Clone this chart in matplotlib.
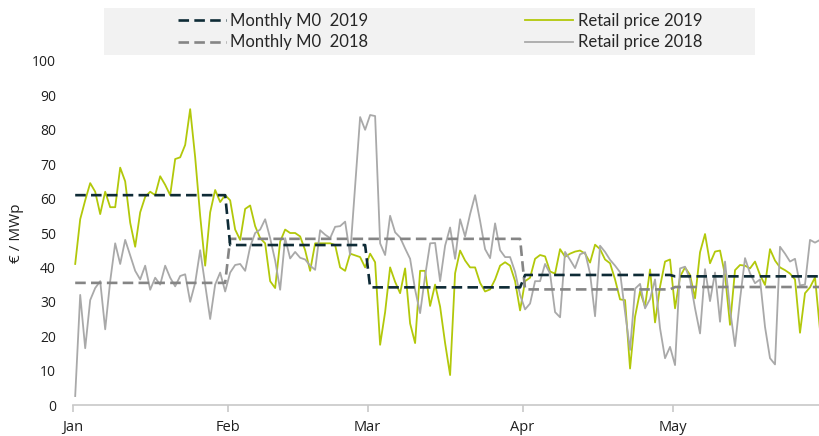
import numpy as np
import matplotlib
matplotlib.use("Agg")
import matplotlib.pyplot as plt
from matplotlib.patches import Rectangle

# daily retail prices (EUR/MWp), Jan 1 .. May 30
retail_2019 = [
    41, 54, 59.5, 64.5, 62, 55.5, 62, 57.5, 57.5, 69, 65, 53, 46, 56, 60.5, 62,
    61, 66.5, 64, 61, 71.5, 72, 75.6, 86, 72, 55, 40.5, 56, 62.5, 59, 61,
    59.5, 51, 48, 57, 58, 52, 48.5, 47, 36, 34, 47.5, 51, 50, 50, 49, 45, 39,
    47, 47, 47, 47, 46.5, 40, 39, 44, 43.5, 43, 40,
    44, 41.5, 17.5, 27, 40, 35.8, 32.5, 39.7, 23.7, 18, 39, 39, 28.8, 35, 28.6,
    18, 8.7, 38.3, 44.9, 42, 40, 40, 35.5, 33, 33.6, 36.5, 40.5, 41.5, 40.5,
    36, 27.5,
    36, 37, 42.5, 43.6, 43.2, 38.8, 38.2, 45.3, 43.1, 44, 44.6, 44.9, 44, 41.4,
    46.6, 45.3, 42.3, 41.2, 36.5, 30.7, 30.5, 10.6, 25.7, 33, 28.6, 39.4, 24,
    34.4, 41.7, 42.3,
    28.1, 37.3, 40, 37.8, 31, 44.4, 49.7, 41.2, 44.6, 44.9, 37.8, 23.3, 39.2,
    40.7, 40.5, 39.7, 41.7, 37.8, 34.9, 45.3, 42, 40, 39.2, 38.2, 36.5, 21,
    32.5, 34.2, 37.1, 21.8,
]
retail_2018 = [
    2.6, 32, 16.5, 30.5, 34, 36, 22, 36, 47, 41, 48, 43.5, 39, 36.5, 40.5, 33.5,
    37, 35, 40.5, 37, 34.5, 37.5, 38, 30, 35.5, 45, 35, 25, 35, 38.5, 33,
    38.5, 40.7, 41, 39, 46, 50, 51, 54, 48.5, 42, 33.5, 48.5, 42.6, 44.5, 42.8,
    42.3, 40.5, 39.3, 50.8, 49.5, 48.5, 51.8, 52, 53.3, 43.6, 63.5, 83.7, 80,
    84.3, 84, 47, 43.6, 55, 50.2, 48.7, 45.5, 42.5, 33.5, 26.7, 37.5, 47, 47.1,
    36, 46.3, 51.6, 42.5, 54, 49, 55.5, 61, 53.5, 45.3, 42.7, 52.8, 45, 43, 43,
    38.7, 32,
    27.8, 29.5, 36, 36, 41, 38.2, 27, 25.5, 44.5, 42.2, 39.8, 43.8, 44.4, 38.2,
    25.8, 46.3, 44.5, 42.2, 40.5, 38.6, 27, 16, 33.8, 35.2, 28.1, 30.8, 36.5,
    22.3, 13.6, 16.9,
    11.6, 39.7, 40.2, 36.5, 28.1, 20.8, 39.5, 30.2, 38.5, 24.2, 41.7, 27.8,
    17.1, 30.7, 42.7, 38.3, 35.4, 36.5, 22.7, 13.6, 11.8, 46, 44, 41.7, 42.5,
    34.8, 35, 48, 47.2, 48,
]

months = ["Jan", "Feb", "Mar", "Apr", "May"]
month_len = [31, 28, 31, 30, 31]
m0_2019 = [61.0, 46.5, 34.2, 37.8, 37.4]
m0_2018 = [35.5, 48.3, 48.3, 33.6, 34.3]

GREEN = "#b2c80a"
LIGHT_GREY = "#a9a9a9"
DARK = "#0e2b36"
MID_GREY = "#858585"

fig = plt.figure(figsize=(8.2, 4.36), dpi=100)
ax = fig.add_axes([72.7 / 820, 31 / 436, (820 - 72.7) / 820, 344 / 436])

days = np.arange(len(retail_2019))
m0_days = np.arange(sum(month_len))

l_r19, = ax.plot(days, retail_2019, color=GREEN, lw=1.3, label="Retail price 2019")
l_r18, = ax.plot(days, retail_2018, color=LIGHT_GREY, lw=1.3, label="Retail price 2018")
l_m18, = ax.plot(m0_days, np.repeat(m0_2018, month_len), color=MID_GREY, lw=1.9,
                 dashes=(4, 2), label="Monthly M0  2018")
l_m19, = ax.plot(m0_days, np.repeat(m0_2019, month_len), color=DARK, lw=1.9,
                 dashes=(4, 2), label="Monthly M0  2019")

ax.set_xlim(-0.5, 149.0)
ax.set_ylim(0, 100)
ax.set_yticks(np.arange(0, 101, 10))

month_start = np.concatenate([[0], np.cumsum(month_len)[:-1]]) - 0.5
ax.set_xticks(month_start)
ax.set_xticklabels(months)

for s in ["top", "right", "left"]:
    ax.spines[s].set_visible(False)
ax.spines["bottom"].set_color("#c8c8c8")
ax.spines["bottom"].set_linewidth(1.2)
ax.tick_params(axis="x", length=5, width=1.2, color="#c8c8c8", pad=6,
               labelsize=10.5, labelcolor="#1f1f1f")
ax.tick_params(axis="y", length=0, pad=12, labelsize=10, labelcolor="#1f1f1f")
for t in ax.get_xticklabels() + ax.get_yticklabels():
    t.set_family("Open Sans")

ax.set_ylabel("€ / MWp", fontsize=11, family="Open Sans", color="#1f1f1f", labelpad=6)

# legend band at the top
fig.patches.append(Rectangle((104 / 820, 1 - 55 / 436), (755 - 104) / 820, 47 / 436,
                             transform=fig.transFigure, facecolor="#f2f2f2",
                             edgecolor="none", zorder=0))
leg = fig.legend(handles=[l_m19, l_m18, l_r19, l_r18], ncol=2,
                 loc="center", bbox_to_anchor=(440 / 820, 1 - 31.5 / 436),
                 frameon=False, handlelength=2.9, handletextpad=0.25,
                 columnspacing=9.4, labelspacing=0.35,
                 prop={"family": "Lato", "size": 12})
for t in leg.get_texts():
    t.set_color("#262626")

fig.savefig("out.png", dpi=100)
